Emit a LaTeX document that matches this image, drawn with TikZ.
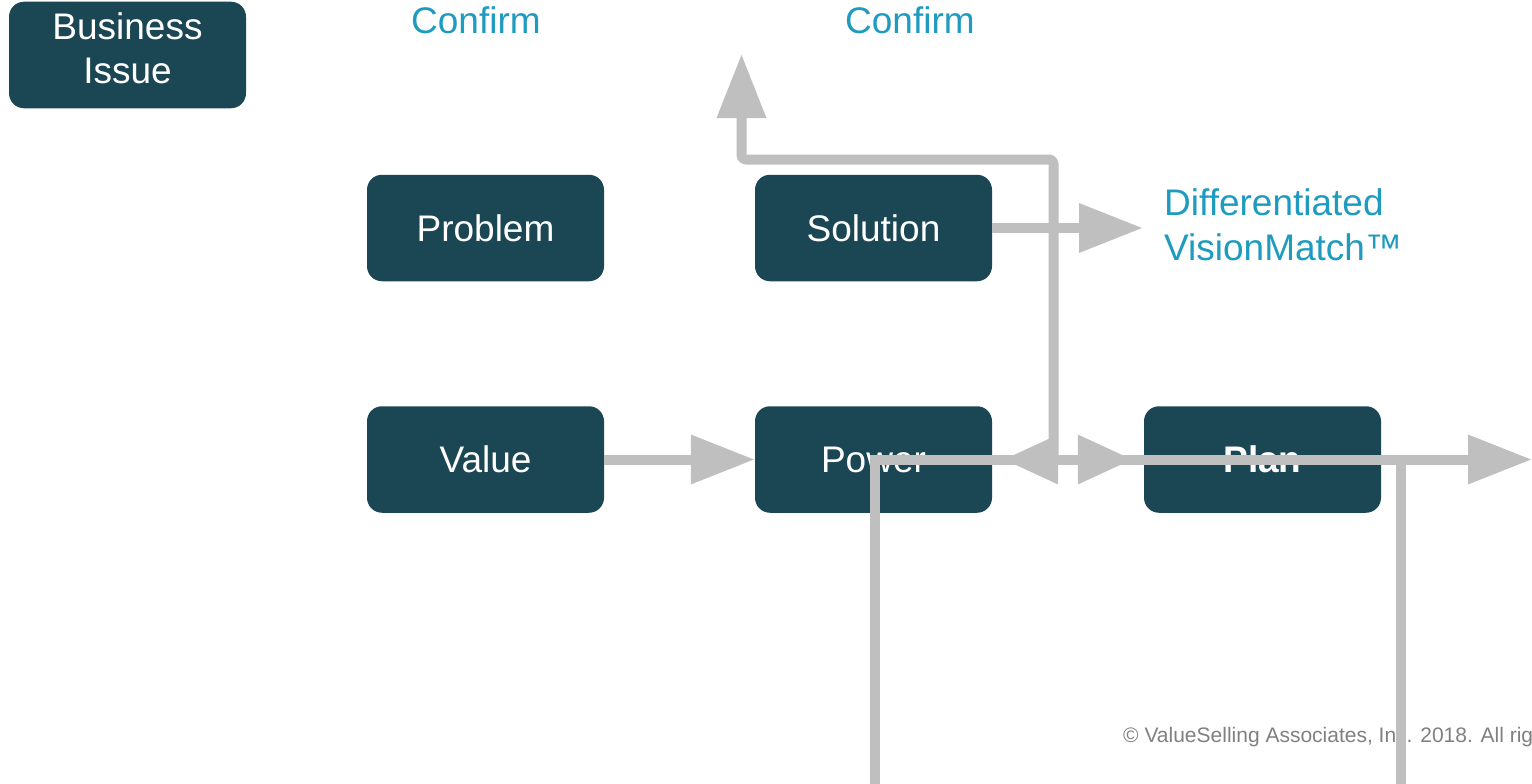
\documentclass[tikz,border=0pt]{standalone}
\usepackage{fontspec}
\setmainfont{Liberation Sans}
\usetikzlibrary{arrows.meta}
\definecolor{boxteal}{RGB}{27,70,83}
\definecolor{linkgray}{RGB}{191,191,191}
\definecolor{calloutcyan}{RGB}{30,155,190}
\definecolor{notegray}{RGB}{128,128,128}
\begin{document}
\begin{tikzpicture}[x=1pt,y=-1pt,
  stage/.style={rectangle, rounded corners=15pt, fill=boxteal, text=white,
    minimum width=237pt, minimum height=106.5pt, inner sep=0pt,
    font=\fontsize{37}{44}\selectfont},
  callout/.style={text=calloutcyan, inner sep=0pt, font=\fontsize{37}{45}\selectfont},
  link/.style={draw=linkgray, line width=10pt},
  bighead/.style={-{Triangle[length=64pt,width=47pt]}},
  twohead/.style={{Triangle[length=55pt,width=47pt]}-{Triangle[length=55pt,width=47pt]}},
]
\useasboundingbox (0,0) rectangle (1532,784);

% stage boxes
\node[stage] (biz) at (127.5,55) {};
\node[align=center, text=white, inner sep=0pt, font=\fontsize{37}{44}\selectfont]
  (biztext) at (127.5,48.5) {Business\\Issue};
\node[stage] (prob) at (485.5,228) {Problem};
\node[stage] (sol) at (873.5,228) {Solution};
\node[stage] (val) at (485.5,459.5) {Value};
\node[stage] (pow) at (873.5,459.5) {Power};
\node[stage, font=\fontsize{37}{44}\selectfont\bfseries] (plan) at (1262.5,459.5) {Plan};

% callouts
\node[callout, anchor=base west] (conf1) at (411,34) {Confirm};
\node[callout, anchor=base west] (conf2) at (845,34) {Confirm};
\node[callout, anchor=north west, align=left] (dvm) at (1164,188.2)
  {Differentiated\\VisionMatch™};

% footer
\node[text=notegray, inner sep=0pt, anchor=base west, font=\fontsize{21}{25}\selectfont]
  (copy) at (1123,742) {© ValueSelling Associates, Inc. 2018. All rig};

% connector end points
\coordinate (dvtip) at (1143,228);
\coordinate (fork) at (1053.5,459.5);
\coordinate (confirmtip) at (741.5,54);
\coordinate (powfoot) at (874.5,784);
\coordinate (planfoot) at (1401,784);
\coordinate (rightend) at (1532,459.5);

% connectors
\draw[link, bighead] (val.east) -- (pow.west);
\draw[link, bighead] (sol.east) -- (dvtip);
\draw[link, twohead] ([xshift=11pt]pow.east) -- ([xshift=-11pt]plan.west);
\draw[link, bighead, rounded corners=4pt, line join=round]
  (fork) -- (fork |- 0,159.5) -| (confirmtip);
\draw[link, bighead] (powfoot) |- (rightend);
\draw[link] (planfoot) -- (planfoot |- rightend);
\end{tikzpicture}
\end{document}
